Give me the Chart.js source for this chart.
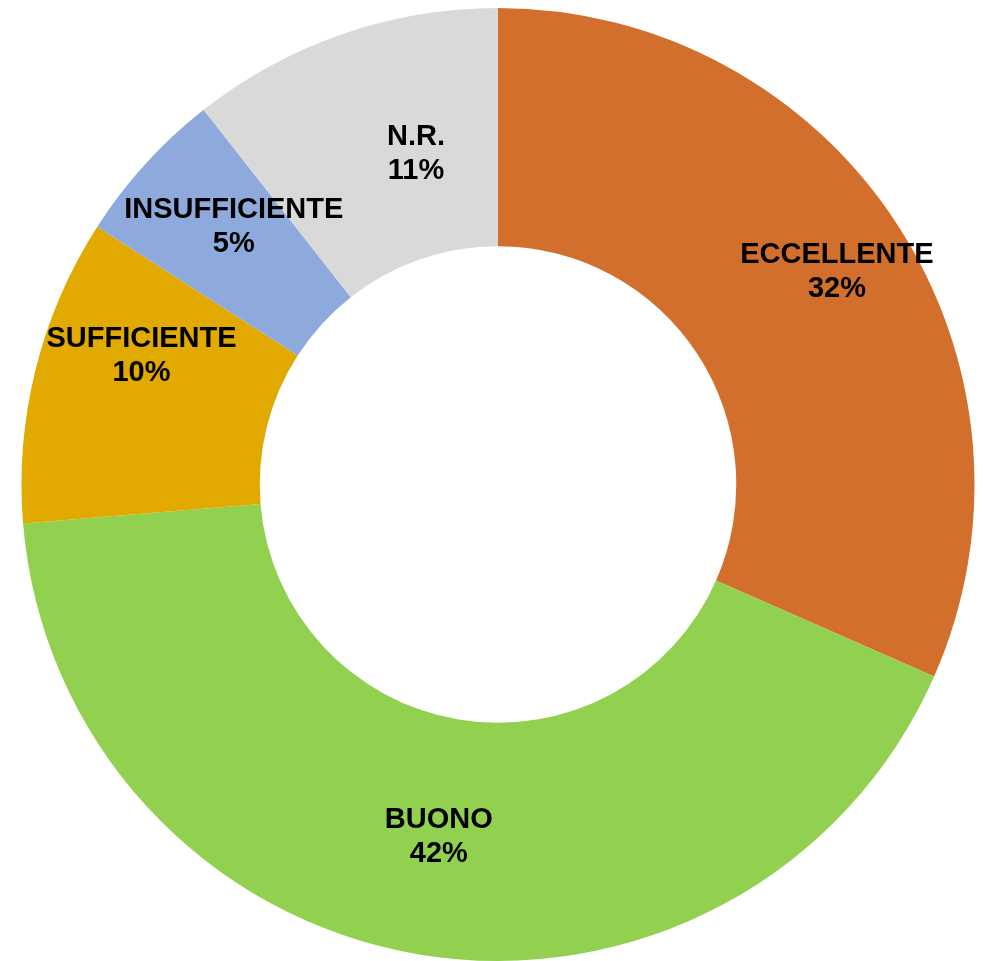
<!DOCTYPE html>
<html>
<head>
<meta charset="utf-8">
<script src="https://cdn.jsdelivr.net/npm/chart.js@4/dist/chart.umd.min.js"></script>
<style>
  body { margin: 0; background: #fff; }
</style>
</head>
<body>
<canvas id="donutCanvas" width="984" height="961"></canvas>
<script>
var categories = ["ECCELLENTE", "BUONO", "SUFFICIENTE", "INSUFFICIENTE", "N.R."];
var values = [31.6, 42.1, 10.4, 5.3, 10.6];
var colors = ["#D36F2C", "#92D050", "#E2A900", "#8EAADC", "#D9D9D9"];

// label "category / percent" written inside each slice
var sliceLabels = {
  id: "sliceLabels",
  afterDatasetsDraw: function (chart, args, opts) {
    var ctx = chart.ctx;
    var total = values.reduce(function (a, b) { return a + b; }, 0);
    var arcs = chart.getDatasetMeta(0).data;
    ctx.save();
    ctx.font = "bold 29px 'Liberation Sans', Arial, sans-serif";
    ctx.fillStyle = "#000";
    ctx.textAlign = "center";
    ctx.textBaseline = "middle";
    arcs.forEach(function (arc, i) {
      var p = arc.getProps(["x", "y", "startAngle", "endAngle", "innerRadius", "outerRadius"], true);
      var mid = (p.startAngle + p.endAngle) / 2 + (opts.shift[i] || 0);
      var r = p.innerRadius + opts.radius[i] * (p.outerRadius - p.innerRadius);
      var cx = p.x + Math.cos(mid) * r;
      var cy = p.y + Math.sin(mid) * r;
      var pct = Math.round(values[i] / total * 100) + "%";
      ctx.fillText(categories[i], cx, cy - 17);
      ctx.fillText(pct, cx, cy + 17);
    });
    ctx.restore();
  }
};

var ctx = document.getElementById("donutCanvas");
var donut = new Chart(ctx, {
  type: "doughnut",
  data: {
    labels: categories,
    datasets: [{
      data: values,
      backgroundColor: colors,
      borderWidth: 0
    }]
  },
  options: {
    responsive: false,
    animation: false,
    cutout: "50%",
    layout: { padding: { top: 8, left: 12, right: 0, bottom: 0 } },
    plugins: {
      legend: { display: false },
      tooltip: { enabled: false },
      sliceLabels: {
        radius: [0.68, 0.5, 0.59, 0.55, 0.43],
        shift: [0.017, 0, 0.1, 0.035, 0.09]
      }
    }
  },
  plugins: [sliceLabels]
});
</script>
</body>
</html>
